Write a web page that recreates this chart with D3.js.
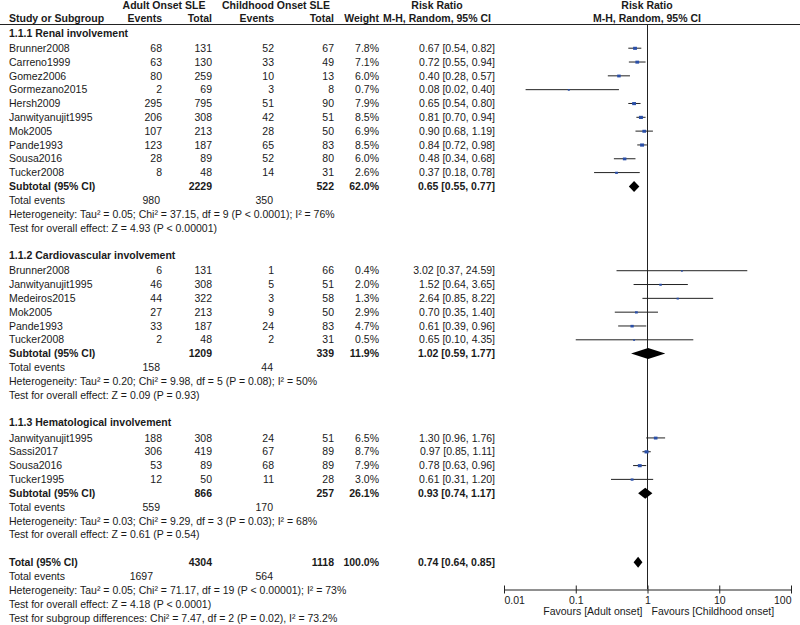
<!DOCTYPE html>
<html>
<head>
<meta charset="utf-8">
<script src="https://cdn.jsdelivr.net/npm/d3@7"></script>
<style>
  body { margin: 0; background: #fff; }
  svg text { font-family: "Liberation Sans", Arial, sans-serif; font-size: 10.5px; fill: #1a1a1a; }
  .b { font-weight: bold; }
</style>
</head>
<body>
<div id="chart"></div>
<script>
// Study level data
const groupTitles = ["1.1.1 Renal involvement", "1.1.2 Cardiovascular involvement", "1.1.3 Hematological involvement"];
const studyGroup = [0,0,0,0,0,0,0,0,0,0, 1,1,1,1,1,1, 2,2,2,2];
const studyNames = ["Brunner2008","Carreno1999","Gomez2006","Gormezano2015","Hersh2009","Janwityanujit1995","Mok2005","Pande1993","Sousa2016","Tucker2008",
  "Brunner2008","Janwityanujit1995","Medeiros2015","Mok2005","Pande1993","Tucker2008",
  "Janwityanujit1995","Sassi2017","Sousa2016","Tucker1995"];
const adultEvents = [68,63,80,2,295,206,107,123,28,8, 6,46,44,27,33,2, 188,306,53,12];
const adultTotals = [131,130,259,69,795,308,213,187,89,48, 131,308,322,213,187,48, 308,419,89,50];
const childEvents = [52,33,10,3,51,42,28,65,52,14, 1,5,3,9,24,2, 24,67,68,11];
const childTotals = [67,49,13,8,90,51,50,83,80,31, 66,51,58,50,83,31, 51,89,89,28];
const weights = [7.8,7.1,6.0,0.7,7.9,8.5,6.9,8.5,6.0,2.6, 0.4,2.0,1.3,2.9,4.7,0.5, 6.5,8.7,7.9,3.0];
const rrEst = [0.67,0.72,0.40,0.08,0.65,0.81,0.90,0.84,0.48,0.37, 3.02,1.52,2.64,0.70,0.61,0.65, 1.30,0.97,0.78,0.61];
const rrLow = [0.54,0.55,0.28,0.02,0.54,0.70,0.68,0.72,0.34,0.18, 0.37,0.64,0.85,0.35,0.39,0.10, 0.96,0.85,0.63,0.31];
const rrHigh = [0.82,0.94,0.57,0.40,0.80,0.94,1.19,0.98,0.68,0.78, 24.59,3.65,8.22,1.40,0.96,4.35, 1.76,1.11,0.96,1.20];

// Subgroup data
const subAdultTotals = [2229, 1209, 866];
const subChildTotals = [522, 339, 257];
const subWeights = [62.0, 11.9, 26.1];
const subEst = [0.65, 1.02, 0.93];
const subLow = [0.55, 0.59, 0.74];
const subHigh = [0.77, 1.77, 1.17];
const subAdultEvents = [980, 158, 559];
const subChildEvents = [350, 44, 170];
const subHetero = [
  "Heterogeneity: Tau² = 0.05; Chi² = 37.15, df = 9 (P < 0.0001); I² = 76%",
  "Heterogeneity: Tau² = 0.20; Chi² = 9.98, df = 5 (P = 0.08); I² = 50%",
  "Heterogeneity: Tau² = 0.03; Chi² = 9.29, df = 3 (P = 0.03); I² = 68%"
];
const subEffect = [
  "Test for overall effect: Z = 4.93 (P < 0.00001)",
  "Test for overall effect: Z = 0.09 (P = 0.93)",
  "Test for overall effect: Z = 0.61 (P = 0.54)"
];

// Overall
const totalAdult = 4304, totalChild = 1118, totalWeight = 100.0;
const totalEst = 0.74, totalLow = 0.64, totalHigh = 0.85;
const totalAdultEvents = 1697, totalChildEvents = 564;
const totalNotes = [
  "Heterogeneity: Tau² = 0.05; Chi² = 71.17, df = 19 (P < 0.00001); I² = 73%",
  "Test for overall effect: Z = 4.18 (P < 0.0001)",
  "Test for subgroup differences: Chi² = 7.47, df = 2 (P = 0.02), I² = 73.2%"
];

const tickVals = [0.01, 0.1, 1, 10, 100];
const tickLabels = ["0.01", "0.1", "1", "10", "100"];

const W = 800, H = 625;
const svg = d3.select("#chart").append("svg")
  .attr("width", W).attr("height", H);

// column positions (right edges unless noted)
const col = { name: 9, aEv: 162, aTot: 212, cEv: 274, cTot: 334, wt: 379, rr: 495 };

// build row list
const rows = [];
let idx = 0;
groupTitles.forEach((g, gi) => {
  rows.push({ type: "header", idx, text: g });
  idx += 1.1;
  studyNames.forEach((n, i) => {
    if (studyGroup[i] !== gi) return;
    rows.push({ type: "study", idx, i });
    idx += 1;
  });
  rows.push({ type: "subtotal", idx, gi });
  idx += 1;
  rows.push({ type: "events", idx, a: subAdultEvents[gi], c: subChildEvents[gi], shift: 2 });
  idx += 1;
  rows.push({ type: "note", idx, text: subHetero[gi] });
  idx += 1;
  rows.push({ type: "note", idx, text: subEffect[gi] });
  idx += 2;
});
rows.push({ type: "total", idx });
idx += 1.05;
rows.push({ type: "events", idx, a: totalAdultEvents, c: totalChildEvents, shift: 9 });
idx += 1;
totalNotes.forEach(t => { rows.push({ type: "note", idx, text: t }); idx += 1; });

const y = d3.scaleLinear().domain([0, 1]).range([33, 33 + 13.82]);
const x = d3.scaleLog().domain([0.01, 100]).range([504, 791]);
const sq = d3.scaleSqrt().domain([0, 10]).range([1.2, 4.2]);

function txt(xp, yp, s, anchor, bold) {
  return svg.append("text")
    .attr("x", xp).attr("y", yp).attr("dy", "0.35em")
    .attr("text-anchor", anchor || "start")
    .attr("class", bold ? "b" : null)
    .text(s);
}
const fmt = v => v.toFixed(2);
const rrStr = (e, l, h) => `${fmt(e)} [${fmt(l)}, ${fmt(h)}]`;
const pct = w => w.toFixed(1) + "%";

// column headers
txt(164, 5, "Adult Onset SLE", "middle", true);
txt(276, 5, "Childhood Onset SLE", "middle", true);
txt(437, 5, "Risk Ratio", "middle", true);
txt(647, 5, "Risk Ratio", "middle", true);
txt(col.name, 18, "Study or Subgroup", "start", true);
txt(col.aEv, 18, "Events", "end", true);
txt(col.aTot, 18, "Total", "end", true);
txt(col.cEv, 18, "Events", "end", true);
txt(col.cTot, 18, "Total", "end", true);
txt(col.wt, 18, "Weight", "end", true);
txt(437, 18, "M-H, Random, 95% CI", "middle", true);
txt(647, 18, "M-H, Random, 95% CI", "middle", true);

svg.append("line")
  .attr("x1", 0).attr("x2", W).attr("y1", 24.5).attr("y2", 24.5)
  .attr("stroke", "#222").attr("stroke-width", 1);

// vertical line of no effect
svg.append("line")
  .attr("x1", x(1)).attr("x2", x(1)).attr("y1", 25).attr("y2", 589)
  .attr("stroke", "#222").attr("stroke-width", 1);

function diamond(yc, e, l, h) {
  const hh = 5.5;
  svg.append("path")
    .attr("d", `M${x(l)},${yc}L${x(e)},${yc - hh}L${x(h)},${yc}L${x(e)},${yc + hh}Z`)
    .attr("fill", "#000");
}

rows.forEach(r => {
  const yc = y(r.idx);
  if (r.type === "header") {
    txt(col.name, yc, r.text, "start", true);
  } else if (r.type === "study") {
    const i = r.i;
    txt(col.name, yc, studyNames[i]);
    txt(col.aEv, yc, adultEvents[i], "end");
    txt(col.aTot, yc, adultTotals[i], "end");
    txt(col.cEv, yc, childEvents[i], "end");
    txt(col.cTot, yc, childTotals[i], "end");
    txt(col.wt, yc, pct(weights[i]), "end");
    txt(col.rr, yc, rrStr(rrEst[i], rrLow[i], rrHigh[i]), "end");
    svg.append("line")
      .attr("x1", x(rrLow[i])).attr("x2", x(rrHigh[i]))
      .attr("y1", yc).attr("y2", yc)
      .attr("stroke", "#222").attr("stroke-width", 1);
    const s = sq(weights[i]);
    svg.append("rect")
      .attr("x", x(rrEst[i]) - s / 2).attr("y", yc - s / 2 + 0.5)
      .attr("width", s).attr("height", s * 0.8)
      .attr("fill", "#2a4fa8");
  } else if (r.type === "subtotal") {
    const g = r.gi;
    txt(col.name, yc, "Subtotal (95% CI)", "start", true);
    txt(col.aTot, yc, subAdultTotals[g], "end", true);
    txt(col.cTot, yc, subChildTotals[g], "end", true);
    txt(col.wt, yc, pct(subWeights[g]), "end", true);
    txt(col.rr, yc, rrStr(subEst[g], subLow[g], subHigh[g]), "end", true);
    diamond(yc, subEst[g], subLow[g], subHigh[g]);
  } else if (r.type === "events") {
    txt(col.name, yc, "Total events");
    txt(col.aEv - r.shift, yc, r.a, "end");
    txt(col.cEv - 1, yc, r.c, "end");
  } else if (r.type === "note") {
    txt(col.name, yc, r.text);
  } else if (r.type === "total") {
    txt(col.name, yc, "Total (95% CI)", "start", true);
    txt(col.aTot, yc, totalAdult, "end", true);
    txt(col.cTot, yc, totalChild, "end", true);
    txt(col.wt, yc, pct(totalWeight), "end", true);
    txt(col.rr, yc, rrStr(totalEst, totalLow, totalHigh), "end", true);
    diamond(yc, totalEst, totalLow, totalHigh);
  }
});

// x axis
const axis = d3.axisBottom(x)
  .tickValues(tickVals)
  .tickFormat((d, i) => tickLabels[i])
  .tickSizeInner(4).tickSizeOuter(0).tickPadding(3);
const ax = svg.append("g")
  .attr("transform", "translate(0,589.5)")
  .call(axis);
ax.select(".domain").attr("stroke", "#222");
ax.selectAll(".tick line").attr("y1", -4).attr("y2", 4).attr("stroke", "#222");
ax.selectAll(".tick text")
  .style("font-family", "'Liberation Sans', Arial, sans-serif")
  .style("font-size", "10.5px").attr("fill", "#1a1a1a")
  .attr("text-anchor", (d, i) => i === 0 ? "start" : i === tickVals.length - 1 ? "end" : "middle");

txt(x(1) - 5, 611, "Favours [Adult onset]", "end");
txt(x(1) + 4, 611, "Favours [Childhood onset]", "start");
</script>
</body>
</html>
